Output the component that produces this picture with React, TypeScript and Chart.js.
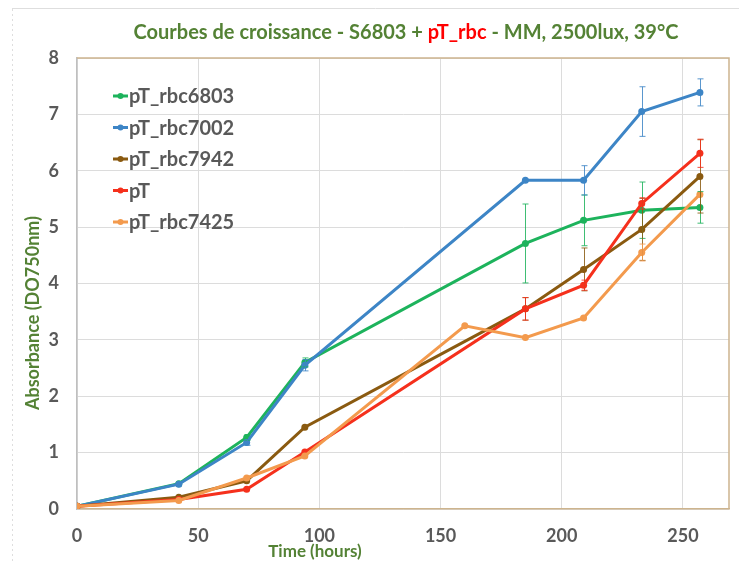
import React, { useEffect, useRef } from "react";
import { Chart, registerables } from "chart.js";

Chart.register(...registerables);

// ---------- data ----------
const seriesNames = ["pT_rbc6803", "pT_rbc7002", "pT_rbc7942", "pT", "pT_rbc7425"];
const seriesColors = ["#1db35c", "#3d85c6", "#8a5a10", "#f5301c", "#f39a4d"];

const timesMain = [0, 42, 70, 94, 185, 209, 233, 257];
const timesOrange = [0, 42, 70, 94, 160, 185, 209, 233, 257];

const od6803 = [0.05, 0.45, 1.27, 2.6, 4.71, 5.12, 5.3, 5.35];
const err6803 = [0, 0, 0.05, 0.08, 0.7, 0.45, 0.5, 0.28];

const od7002 = [0.05, 0.44, 1.18, 2.55, 5.83, 5.83, 7.05, 7.39];
const err7002 = [0, 0, 0.05, 0.1, 0, 0.26, 0.44, 0.24];

const od7942 = [0.05, 0.21, 0.5, 1.45, 3.55, 4.25, 4.96, 5.9];
const err7942 = [0, 0, 0, 0, 0.2, 0.38, 0.55, 0.65];

const odPT = [0.05, 0.17, 0.35, 1.01, 3.55, 3.97, 5.42, 6.31];
const errPT = [0, 0, 0, 0, 0.2, 0.09, 0.1, 0.25];

const od7425 = [0.05, 0.15, 0.55, 0.94, 3.25, 3.04, 3.39, 4.55, 5.58];
const err7425 = [0, 0, 0, 0, 0, 0, 0, 0.15, 0];

const xTickValues = [0, 50, 100, 150, 200, 250];
const yTickValues = [0, 1, 2, 3, 4, 5, 6, 7, 8];

const titleParts = [
  { text: "Courbes de croissance - S6803 + ", red: false },
  { text: "pT_rbc", red: true },
  { text: " - MM, 2500lux, 39°C", red: false },
];
const xTitle = "Time (hours)";
const yTitle = "Absorbance (DO750nm)";

const GREEN = "#548235";
const RED = "#ff0000";
const GREY_TEXT = "#595959";
const FONT = "Lato, 'Open Sans', sans-serif";

const allTimes = [timesMain, timesMain, timesMain, timesMain, timesOrange];
const allValues = [od6803, od7002, od7942, odPT, od7425];
const allErrors = [err6803, err7002, err7942, errPT, err7425];

// ---------- plugins ----------
const framePlugin = {
  id: "frame",
  beforeDraw(chart: any) {
    const ctx = chart.ctx;
    ctx.save();
    ctx.fillStyle = "#ffffff";
    ctx.fillRect(0, 0, chart.width, chart.height);
    ctx.strokeStyle = "#dedede";
    ctx.lineWidth = 1;
    ctx.setLineDash([2, 3]);
    ctx.beginPath();
    ctx.moveTo(12.5, 9);
    ctx.lineTo(12.5, chart.height);
    ctx.stroke();
    ctx.setLineDash([]);
    ctx.beginPath();
    ctx.moveTo(12, 8.5);
    ctx.lineTo(chart.width, 8.5);
    ctx.stroke();
    ctx.restore();
  },
  afterDraw(chart: any) {
    const ctx = chart.ctx;
    const a = chart.chartArea;
    ctx.save();
    ctx.strokeStyle = "#cdb48e";
    ctx.lineWidth = 1.5;
    ctx.beginPath();
    ctx.moveTo(a.left, a.top);
    ctx.lineTo(a.right, a.top);
    ctx.lineTo(a.right, a.bottom);
    ctx.stroke();

    // title
    ctx.font = `bold 20px ${FONT}`;
    ctx.textBaseline = "middle";
    ctx.textAlign = "left";
    const total = titleParts.reduce((s, p) => s + ctx.measureText(p.text).width, 0);
    let x = 406 - total / 2;
    for (const p of titleParts) {
      ctx.fillStyle = p.red ? RED : GREEN;
      ctx.fillText(p.text, x, 33);
      x += ctx.measureText(p.text).width;
    }

    // axis titles
    ctx.font = `bold 17px ${FONT}`;
    ctx.fillStyle = GREEN;
    ctx.textAlign = "center";
    ctx.fillText(xTitle, 315, 552);
    ctx.font = `bold 18px ${FONT}`;
    ctx.save();
    ctx.translate(33, 313);
    ctx.rotate(-Math.PI / 2);
    ctx.fillText(yTitle, 0, 0);
    ctx.restore();

    // legend
    ctx.font = `bold 20px ${FONT}`;
    ctx.textAlign = "left";
    chart.data.datasets.forEach((ds: any, i: number) => {
      const y = 96 + i * 31.5;
      ctx.strokeStyle = ds.borderColor;
      ctx.lineWidth = 3;
      ctx.beginPath();
      ctx.moveTo(113, y);
      ctx.lineTo(128, y);
      ctx.stroke();
      ctx.fillStyle = ds.borderColor;
      ctx.beginPath();
      ctx.arc(120.5, y, 3, 0, Math.PI * 2);
      ctx.fill();
      ctx.fillStyle = GREY_TEXT;
      ctx.fillText(ds.label, 129, y + 1);
    });
    ctx.restore();
  },
};

const errorBarPlugin = {
  id: "errorBars",
  afterDatasetsDraw(chart: any) {
    const ctx = chart.ctx;
    const xs = chart.scales.x;
    const ys = chart.scales.y;
    ctx.save();
    ctx.lineWidth = 1;
    allErrors.forEach((errs, si) => {
      ctx.strokeStyle = seriesColors[si];
      ctx.globalAlpha = 0.85;
      errs.forEach((e, i) => {
        if (!e) return;
        const t = allTimes[si][i];
        const v = allValues[si][i];
        const px = Math.round(xs.getPixelForValue(t)) + 0.5;
        const top = ys.getPixelForValue(v + e);
        const bot = ys.getPixelForValue(v - e);
        ctx.beginPath();
        ctx.moveTo(px, top);
        ctx.lineTo(px, bot);
        ctx.moveTo(px - 3, top);
        ctx.lineTo(px + 3, top);
        ctx.moveTo(px - 3, bot);
        ctx.lineTo(px + 3, bot);
        ctx.stroke();
      });
    });
    ctx.restore();
  },
};

export default function App() {
  const canvasRef = useRef<HTMLCanvasElement | null>(null);

  useEffect(() => {
    if (!canvasRef.current) return;
    const datasets = seriesNames.map((name, si) => ({
      label: name,
      data: allTimes[si].map((t, i) => ({ x: t, y: allValues[si][i] })),
      borderColor: seriesColors[si],
      backgroundColor: seriesColors[si],
      borderWidth: 3,
      pointRadius: 3.5,
      pointHoverRadius: 3.5,
      pointBorderWidth: 0,
      tension: 0,
      fill: false,
      order: seriesNames.length - si,
    }));

    const chart = new Chart(canvasRef.current, {
      type: "line",
      data: { datasets },
      options: {
        animation: false,
        responsive: false,
        maintainAspectRatio: false,
        layout: { padding: { top: 58, right: 10, left: 0, bottom: 0 } },
        plugins: {
          legend: { display: false },
          title: { display: false },
          tooltip: { enabled: false },
        },
        scales: {
          x: {
            type: "linear",
            min: 0,
            max: 269,
            afterBuildTicks: (s: any) => {
              s.ticks = xTickValues.map((v) => ({ value: v }));
            },
            afterFit: (s: any) => {
              s.height = 53;
            },
            ticks: {
              color: GREY_TEXT,
              font: { family: FONT, size: 18, weight: "bold" },
              padding: 16,
              maxRotation: 0,
            },
            grid: { color: "#dcdcdc", drawTicks: false },
            border: { color: "#cdb48e", width: 1.5 },
          },
          y: {
            min: 0,
            max: 8,
            afterBuildTicks: (s: any) => {
              s.ticks = yTickValues.map((v) => ({ value: v }));
            },
            afterFit: (s: any) => {
              s.width = 77;
            },
            ticks: {
              color: GREY_TEXT,
              font: { family: FONT, size: 18, weight: "bold" },
              padding: 18,
            },
            grid: { color: "#dcdcdc", drawTicks: false },
            border: { color: "#bfbfbf", width: 1.5 },
          },
        },
      },
      plugins: [framePlugin, errorBarPlugin],
    });
    return () => chart.destroy();
  }, []);

  return (
    <div style={{ position: "fixed", left: 0, top: 0, width: 739, height: 562, background: "#fff" }}>
      <canvas ref={canvasRef} width={739} height={562} style={{ width: 739, height: 562 }} />
    </div>
  );
}
